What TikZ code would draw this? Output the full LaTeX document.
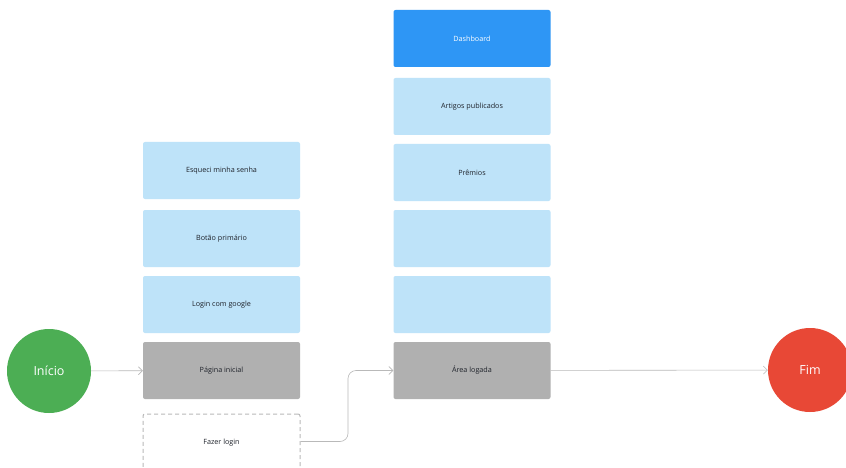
\documentclass[tikz,border=0pt]{standalone}
\usepackage{fontspec}
\setmainfont{Open Sans}
\usetikzlibrary{arrows.meta}

\definecolor{cardBlue}{RGB}{190,227,249}
\definecolor{dashBlue}{RGB}{46,150,245}
\definecolor{pageGray}{RGB}{176,176,176}
\definecolor{startGreen}{RGB}{76,174,84}
\definecolor{endRed}{RGB}{232,72,54}
\definecolor{lineGray}{RGB}{185,185,185}
\definecolor{textDark}{RGB}{30,34,42}

\begin{document}
\begin{tikzpicture}
[x=1pt,y=-1pt,
  cardDecorate/.style={shape=rectangle,rounded corners=2pt,minimum width=157pt,
    minimum height=57pt,inner sep=0pt,text=textDark,font=\fontsize{7.2}{9}\selectfont},%
  lightCard/.style={cardDecorate,fill=cardBlue},%
  darkCard/.style={cardDecorate,fill=dashBlue,text=white},%
  grayCard/.style={cardDecorate,fill=pageGray},%
  dashCard/.style={cardDecorate,fill=white,draw=lineGray,dash pattern=on 4pt off 3pt,line width=1pt},%
  endDecorate/.style={shape=circle,minimum size=84pt,inner sep=0pt,text=white,
    font=\fontsize{12.5}{14}\selectfont},%
  lineDecorate/.style={-{Straight Barb[length=4pt,width=8pt]},draw=lineGray,line width=0.6pt}]
\clip (0,0) rectangle (846,468);
\fill[white] (0,0) rectangle (846,468);
%% start and end
\node (inicio) at (49,371) [endDecorate,fill=startGreen] {Início};
\node (fim) at (810,370) [endDecorate,fill=endRed] {Fim};
%% left column
\foreach \nodename/\y/\txt in {esqueci/170.5/Esqueci minha senha, botao/238.5/Botão primário,
  google/304.5/Login com google}
{
  \node (\nodename) at (221.5,\y) [lightCard] {\txt};
}
\node (pagina) at (221.5,370.5) [grayCard] {Página inicial};
\node (fazer) at (221.5,442.5) [dashCard] {Fazer login};
%% right column
\node (dashboard) at (472,38.5) [darkCard] {Dashboard};
\foreach \nodename/\y/\txt in {artigos/106.5/Artigos publicados, premios/172.5/Prêmios,
  vazioA/238.5/, vazioB/304.5/}
{
  \node (\nodename) at (472,\y) [lightCard] {\txt};
}
\node (area) at (472,370.5) [grayCard] {Área logada};
%% edges or lines
\coordinate (bend) at (348,441.5);
\path
\foreach \startnode/\endnode in {inicio/pagina, area/fim}
{
  (\startnode) edge[lineDecorate] (\endnode)
};
\draw[lineDecorate,rounded corners=8pt] (fazer.east |- bend) -- (bend) |- (area.west);
\end{tikzpicture}
\end{document}
